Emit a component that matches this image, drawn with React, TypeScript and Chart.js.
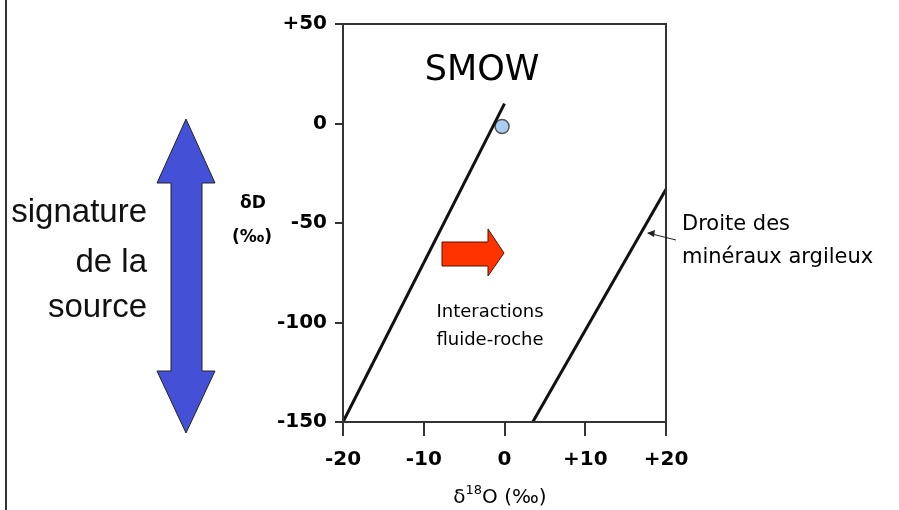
import React, { useEffect, useRef } from "react";
import { Chart, registerables } from "chart.js";

Chart.register(...registerables);

// Meteoric water line (δD vs δ18O)
const meteoricX = [-20, 0];
const meteoricY = [-150, 10];
// Clay minerals line
const clayX = [3.5, 20];
const clayY = [-150, -33];
// SMOW point
const smowX = [-0.3];
const smowY = [-1.5];

const xTicks = [-20, -10, 0, 10, 20];
const yTicks = [50, 0, -50, -100, -150];

const fmt = (v: number) => (v > 0 ? "+" + v : String(v));

const TXT = "#000";
const FONT = "'DejaVu Sans', sans-serif";

const decorPlugin = {
  id: "decor",
  afterDraw(chart: any) {
    const ctx = chart.ctx as CanvasRenderingContext2D;
    const ca = chart.chartArea;
    ctx.save();
    // frame box
    ctx.strokeStyle = "#333";
    ctx.lineWidth = 2;
    ctx.strokeRect(ca.left, ca.top, ca.right - ca.left, ca.bottom - ca.top);

    // left page border
    ctx.beginPath();
    ctx.moveTo(6, 0);
    ctx.lineTo(6, 510);
    ctx.strokeStyle = "#333";
    ctx.lineWidth = 2;
    ctx.stroke();

    // blue double arrow
    ctx.beginPath();
    const bpts = [
      [186, 119], [215, 183], [202, 183], [202, 371], [215, 371],
      [186, 433], [157, 371], [171, 371], [171, 183], [157, 183],
    ];
    bpts.forEach(([x, y], i) => (i ? ctx.lineTo(x, y) : ctx.moveTo(x, y)));
    ctx.closePath();
    ctx.fillStyle = "#4450D5";
    ctx.fill();
    ctx.strokeStyle = "#222";
    ctx.lineWidth = 1;
    ctx.stroke();

    // red arrow
    ctx.beginPath();
    const rpts = [
      [442, 242], [488, 242], [488, 229], [504, 253], [488, 276], [488, 266], [442, 266],
    ];
    rpts.forEach(([x, y], i) => (i ? ctx.lineTo(x, y) : ctx.moveTo(x, y)));
    ctx.closePath();
    ctx.fillStyle = "#FF3300";
    ctx.fill();
    ctx.strokeStyle = "#551100";
    ctx.lineWidth = 1;
    ctx.stroke();

    // annotation pointer
    ctx.beginPath();
    ctx.moveTo(676, 240);
    ctx.lineTo(648, 233);
    ctx.strokeStyle = "#222";
    ctx.lineWidth = 1;
    ctx.stroke();
    ctx.beginPath();
    ctx.moveTo(647, 233);
    ctx.lineTo(655, 230);
    ctx.lineTo(654, 237);
    ctx.closePath();
    ctx.fillStyle = "#222";
    ctx.fill();

    // left text
    ctx.fillStyle = "#111";
    ctx.textAlign = "right";
    ctx.textBaseline = "middle";
    ctx.font = "33px 'Liberation Sans', Arial, sans-serif";
    ctx.fillText("signature", 147, 213);
    ctx.fillText("de la", 147, 263);
    ctx.fillText("source", 147, 308);

    // SMOW
    ctx.fillStyle = TXT;
    ctx.textAlign = "center";
    ctx.font = `35px ${FONT}`;
    ctx.fillText("SMOW", 482, 71);

    // y title
    ctx.font = `bold 17px ${FONT}`;
    ctx.fillText("δD", 253, 204);
    ctx.fillText("(‰)", 252, 238);

    // x title with superscript
    ctx.textAlign = "left";
    ctx.textBaseline = "alphabetic";
    const base = 503;
    const p1 = "δ";
    ctx.font = `20px ${FONT}`;
    const w1 = ctx.measureText(p1).width;
    ctx.font = `13px ${FONT}`;
    const w2 = ctx.measureText("18").width;
    ctx.font = `20px ${FONT}`;
    const w3 = ctx.measureText("O (‰)").width;
    const x0 = 500 - (w1 + w2 + w3) / 2;
    ctx.fillText(p1, x0, base);
    ctx.font = `13px ${FONT}`;
    ctx.fillText("18", x0 + w1, base - 9);
    ctx.font = `20px ${FONT}`;
    ctx.fillText("O (‰)", x0 + w1 + w2, base);

    // interactions
    ctx.textAlign = "center";
    ctx.textBaseline = "middle";
    ctx.font = `18px ${FONT}`;
    ctx.fillText("Interactions", 490, 312);
    ctx.fillText("fluide-roche", 490, 340);

    // clay line label
    ctx.textAlign = "left";
    ctx.font = `21px ${FONT}`;
    ctx.fillText("Droite des", 682, 225);
    ctx.fillText("minéraux argileux", 682, 258);

    ctx.restore();
  },
};

export default function App() {
  const ref = useRef<HTMLCanvasElement | null>(null);
  useEffect(() => {
    if (!ref.current) return;
    const toPts = (xs: number[], ys: number[]) => xs.map((x, i) => ({ x, y: ys[i] }));
    const chart = new Chart(ref.current, {
      type: "scatter",
      data: {
        datasets: [
          {
            label: "meteoric",
            data: toPts(meteoricX, meteoricY),
            showLine: true,
            borderColor: "#111",
            borderWidth: 3,
            pointRadius: 0,
            clip: false as any,
          },
          {
            label: "clay",
            data: toPts(clayX, clayY),
            showLine: true,
            borderColor: "#111",
            borderWidth: 3,
            pointRadius: 0,
            clip: false as any,
          },
          {
            label: "SMOW",
            data: toPts(smowX, smowY),
            pointRadius: 7,
            backgroundColor: "#A8CDF5",
            borderColor: "#555",
            borderWidth: 1.5,
            clip: false as any,
          },
        ],
      },
      options: {
        responsive: false,
        animation: false,
        layout: { padding: { left: 263, right: 233, top: 24, bottom: 0 } },
        plugins: { legend: { display: false }, tooltip: { enabled: false } },
        scales: {
          x: {
            type: "linear",
            min: -20,
            max: 20,
            afterBuildTicks: (s: any) => {
              s.ticks = xTicks.map((v) => ({ value: v }));
            },
            afterFit: (s: any) => {
              s.height = 88;
            },
            ticks: {
              callback: (v: any) => fmt(Number(v)),
              color: TXT,
              font: { family: FONT, size: 20, weight: "bold" },
              padding: 12,
              maxRotation: 0,
            },
            grid: { drawOnChartArea: false, tickLength: 14, color: "#333", lineWidth: 2 },
            border: { color: "#333", width: 2 },
          },
          y: {
            type: "linear",
            min: -150,
            max: 50,
            afterBuildTicks: (s: any) => {
              s.ticks = yTicks.map((v) => ({ value: v }));
            },
            afterFit: (s: any) => {
              s.width = 80;
            },
            ticks: {
              callback: (v: any) => fmt(Number(v)),
              color: TXT,
              font: { family: FONT, size: 20, weight: "bold" },
              padding: 8,
            },
            grid: { drawOnChartArea: false, tickLength: 8, color: "#333", lineWidth: 2 },
            border: { color: "#333", width: 2 },
          },
        },
      },
      plugins: [decorPlugin],
    } as any);
    return () => chart.destroy();
  }, []);
  return (
    <div style={{ position: "fixed", left: 0, top: 0, width: 899, height: 510, background: "#fff" }}>
      <canvas ref={ref} width={899} height={510} />
    </div>
  );
}
